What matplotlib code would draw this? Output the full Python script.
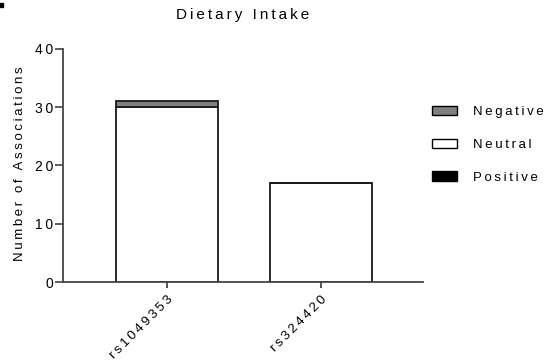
import matplotlib
matplotlib.use('Agg')
import matplotlib.pyplot as plt
from matplotlib.patches import Patch, Rectangle

plt.rcParams['font.family'] = ['Liberation Sans', 'DejaVu Sans']

categories = ['rs1049353', 'rs324420']
positive = [0, 0]
neutral = [30, 17]
negative = [1, 0]
series_names = ['Negative', 'Neutral', 'Positive']
series_colors = ['#808080', 'white', 'black']
yticks = [0, 10, 20, 30, 40]
title = 'Dietary Intake'
ylabel = 'Number of Associations'

GAP = '\u2009'


def sp(s):
    return GAP.join(s)


W, H = 548, 363
fig = plt.figure(figsize=(W / 100, H / 100), dpi=100)
ax = fig.add_axes([63 / W, 1 - 282 / H, 360 / W, 233 / H])

x = list(range(len(categories)))
bw = 0.66
edge = '#1a1a1a'
lw = 1.3
ax.bar(x, positive, bw, color=series_colors[2], edgecolor=edge, linewidth=lw)
ax.bar(x, neutral, bw, bottom=positive, color=series_colors[1], edgecolor=edge, linewidth=lw)
bottom2 = [p + n for p, n in zip(positive, neutral)]
ax.bar(x, negative, bw, bottom=bottom2, color=series_colors[0], edgecolor=edge, linewidth=lw)

ax.set_xlim(-0.675, 1.662)
ax.set_ylim(0, 40)
ax.set_yticks(yticks)
ax.set_yticklabels([sp(str(t)) for t in yticks], fontsize=10)
ax.set_xticks(x)
ax.set_xticklabels([sp(c) for c in categories], fontsize=9.5, rotation=45,
                   ha='right', va='top', rotation_mode='anchor')
for s in ['top', 'right']:
    ax.spines[s].set_visible(False)
for s in ['left', 'bottom']:
    ax.spines[s].set_color('#444444')
    ax.spines[s].set_linewidth(1.3)
ax.tick_params(axis='y', length=5.5, width=1.1, color='#333333', pad=1.5)
ax.tick_params(axis='x', length=4.5, width=1.1, color='#222222', pad=3.5)

fig.text(243 / W, 1 - 15 / H, sp(title), ha='center', va='center', fontsize=11)
fig.text(20 / W, 1 - 164 / H, sp(ylabel), ha='center', va='center',
         rotation=90, fontsize=9.5)

handles = [Patch(facecolor=c, edgecolor='black', linewidth=1.0) for c in series_colors]
fig.legend(handles, [sp(n) for n in series_names], loc='upper left',
           bbox_to_anchor=(428 / W, 1 - 102 / H), frameon=False, fontsize=9.5,
           handlelength=1.9, handleheight=0.7, handletextpad=1.2,
           labelspacing=1.55, borderaxespad=0, borderpad=0.3)

fig.patches.append(Rectangle((0, 1 - 7 / H), 3 / W, 4 / H,
                             transform=fig.transFigure, color='black'))

fig.savefig('out.png', dpi=100)
